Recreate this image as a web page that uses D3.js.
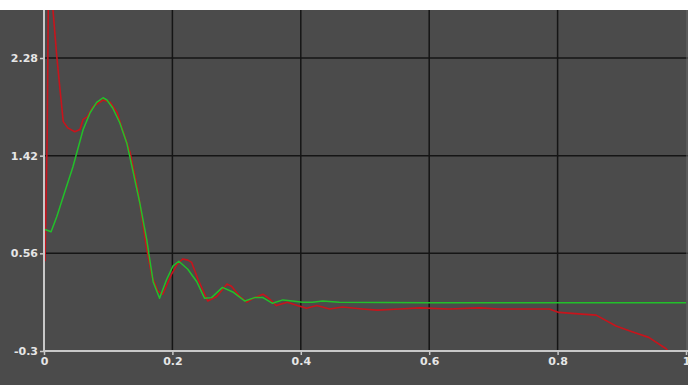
<!DOCTYPE html>
<html>
<head>
<meta charset="utf-8">
<script src="https://cdn.jsdelivr.net/npm/d3@7"></script>
<style>
  html, body { margin: 0; padding: 0; background: #ffffff; }
  svg { display: block; }
</style>
</head>
<body>
<script>
// ---- data ----
const xTicks = [0, 0.2, 0.4, 0.6, 0.8, 1];
const xTickLabels = ["0", "0.2", "0.4", "0.6", "0.8", "1"];
const yTicks = [-0.3, 0.56, 1.42, 2.28];
const yTickLabels = ["-0.3", "0.56", "1.42", "2.28"];

const greenX = [0.0016, 0.011, 0.020, 0.030, 0.045, 0.061, 0.072, 0.082, 0.092, 0.098, 0.107, 0.118, 0.129, 0.138, 0.149, 0.160, 0.170, 0.180, 0.191, 0.201, 0.210, 0.224, 0.238, 0.250, 0.261, 0.278, 0.294, 0.313, 0.328, 0.341, 0.356, 0.372, 0.387, 0.403, 0.418, 0.434, 0.460, 0.600, 0.800, 1.0];
const greenY = [0.77, 0.75, 0.885, 1.06, 1.32, 1.65, 1.80, 1.89, 1.93, 1.91, 1.84, 1.71, 1.53, 1.30, 1.01, 0.68, 0.31, 0.165, 0.33, 0.45, 0.49, 0.42, 0.31, 0.165, 0.17, 0.26, 0.22, 0.14, 0.17, 0.17, 0.12, 0.15, 0.14, 0.13, 0.13, 0.14, 0.13, 0.125, 0.125, 0.125];

const redX = [0.0016, 0.005, 0.0075, 0.011, 0.014, 0.020, 0.025, 0.030, 0.037, 0.048, 0.056, 0.061, 0.067, 0.076, 0.092, 0.103, 0.114, 0.121, 0.134, 0.146, 0.160, 0.168, 0.177, 0.185, 0.199, 0.207, 0.216, 0.224, 0.230, 0.240, 0.255, 0.269, 0.285, 0.292, 0.305, 0.316, 0.328, 0.341, 0.351, 0.362, 0.379, 0.398, 0.409, 0.425, 0.445, 0.465, 0.496, 0.519, 0.554, 0.585, 0.631, 0.678, 0.709, 0.756, 0.787, 0.802, 0.838, 0.860, 0.891, 0.916, 0.942, 0.969, 0.972];
const redY = [0.49, 1.62, 3.3, 3.3, 2.7, 2.29, 2.0, 1.72, 1.665, 1.63, 1.65, 1.74, 1.76, 1.85, 1.91, 1.89, 1.80, 1.67, 1.45, 1.12, 0.60, 0.36, 0.23, 0.20, 0.38, 0.46, 0.51, 0.50, 0.48, 0.33, 0.14, 0.18, 0.29, 0.27, 0.18, 0.13, 0.17, 0.20, 0.16, 0.10, 0.13, 0.095, 0.077, 0.10, 0.07, 0.087, 0.07, 0.06, 0.07, 0.08, 0.07, 0.08, 0.07, 0.07, 0.07, 0.04, 0.025, 0.016, -0.08, -0.13, -0.18, -0.28, -0.30];

// ---- layout ----
const W = 689, H = 385;
const mLeft = 44, mRight = 686, mTop = 10, mBottom = 351;
const yMax = 2.28 + (58 - mTop) / ((mBottom - 58) / 2.58);

const svg = d3.select("body").append("svg").attr("width", W).attr("height", H);
svg.append("rect").attr("x", 0).attr("y", mTop).attr("width", 688).attr("height", H - mTop).attr("fill", "#4b4b4b");

const x = d3.scaleLinear().domain([0, 1]).range([mLeft, mRight]);
const y = d3.scaleLinear().domain([-0.3, yMax]).range([mBottom, mTop]);

// grid
const grid = svg.append("g");
grid.selectAll(".vg").data(xTicks.filter(d => d > 0 && d < 1)).enter().append("line")
  .attr("x1", d => x(d)).attr("x2", d => x(d)).attr("y1", mTop).attr("y2", mBottom)
  .attr("stroke", "#151515").attr("stroke-width", 1.5);
grid.selectAll(".hg").data(yTicks.filter(d => d > -0.3)).enter().append("line")
  .attr("x1", mLeft).attr("x2", mRight + 2).attr("y1", d => y(d)).attr("y2", d => y(d))
  .attr("stroke", "#151515").attr("stroke-width", 1.5);

// right border line
svg.append("line").attr("x1", 687).attr("x2", 687).attr("y1", mTop).attr("y2", mBottom)
  .attr("stroke", "#6a6a6a").attr("stroke-width", 1);

// clip
svg.append("clipPath").attr("id", "clip").append("rect")
  .attr("x", mLeft).attr("y", mTop).attr("width", mRight - mLeft + 2).attr("height", mBottom - mTop);

const line = d3.line().x(d => x(d[0])).y(d => y(d[1]));
const plot = svg.append("g").attr("clip-path", "url(#clip)");
plot.append("path").datum(d3.zip(redX, redY)).attr("d", line)
  .attr("fill", "none").attr("stroke", "#c8141c").attr("stroke-width", 1.6).attr("stroke-linejoin", "round");
plot.append("path").datum(d3.zip(greenX, greenY)).attr("d", line)
  .attr("fill", "none").attr("stroke", "#22c02a").attr("stroke-width", 1.5).attr("stroke-linejoin", "round");

// axes
const axStyle = g => {
  g.select(".domain").attr("stroke", "#c8c8c8").attr("stroke-width", 2);
  g.selectAll(".tick line").attr("stroke", "#c8c8c8").attr("stroke-width", 1.5);
  g.selectAll(".tick text").attr("fill", "#e6e6e6").attr("font-family", "DejaVu Sans, sans-serif")
    .attr("font-size", 11).attr("font-weight", "bold");
};
const xAxis = d3.axisBottom(x).tickValues(xTicks).tickFormat((d, i) => xTickLabels[i]).tickSizeOuter(0).tickSize(4).tickPadding(2);
svg.append("g").attr("transform", `translate(0,${mBottom})`).call(xAxis).call(axStyle)
  .select(".domain").attr("d", `M${mLeft},0H${mRight + 2}`);
const yAxis = d3.axisLeft(y).tickValues(yTicks).tickFormat((d, i) => yTickLabels[i]).tickSizeOuter(0).tickSize(4).tickPadding(2);
svg.append("g").attr("transform", `translate(${mLeft},0)`).call(yAxis).call(axStyle)
  .select(".domain").attr("d", `M0,${mTop}V${mBottom}`);
</script>
</body>
</html>
